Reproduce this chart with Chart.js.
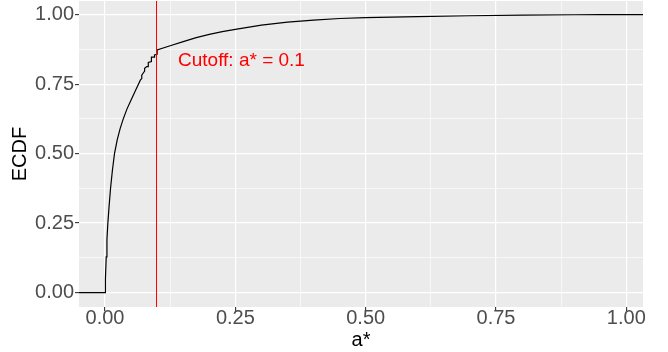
<!DOCTYPE html>
<html>
<head>
<meta charset="utf-8">
<script src="https://cdn.jsdelivr.net/npm/chart.js@4/dist/chart.umd.min.js"></script>
<style>
  html, body { margin: 0; padding: 0; background: #ffffff; }
  #wrap { width: 668px; height: 352px; }
</style>
</head>
<body>
<div id="wrap"><canvas id="c" width="668" height="352"></canvas></div>
<script>
// Empirical CDF of a* (sorted a* values and cumulative proportions)
const aValues = [
  0.0000, 0.0008, 0.0023, 0.0037, 0.0054, 0.0078, 0.0106, 0.0142, 0.0182, 0.0235,
  0.0290, 0.0350, 0.0420, 0.0500, 0.0580, 0.0650, 0.0680, 0.0705, 0.0705, 0.0730,
  0.0760, 0.0760, 0.0800, 0.0830, 0.0830, 0.0890, 0.0890, 0.0950, 0.0950, 0.1000,
  0.1000, 0.1250, 0.1500, 0.1750, 0.2000, 0.2250, 0.2500, 0.3000, 0.3500, 0.4000,
  0.4500, 0.5000, 0.6000, 0.7000, 0.8000, 0.9000, 0.9500
];
const ecdfValues = [
  0.000, 0.050, 0.128, 0.190, 0.248, 0.310, 0.375, 0.440, 0.500, 0.550,
  0.590, 0.625, 0.660, 0.693, 0.725, 0.753, 0.765, 0.770, 0.782, 0.789,
  0.797, 0.807, 0.813, 0.813, 0.828, 0.831, 0.847, 0.847, 0.855, 0.857,
  0.873, 0.888, 0.903, 0.917, 0.929, 0.939, 0.947, 0.962, 0.973, 0.980,
  0.986, 0.989, 0.993, 0.996, 0.998, 0.9995, 1.000
];
const cutoff = 0.1;
const cutoffLabel = 'Cutoff: a* = 0.1';
const xMajorTicks = [0, 0.25, 0.5, 0.75, 1];
const xMinorTicks = [0.125, 0.375, 0.625, 0.875];
const yMajorTicks = [0, 0.25, 0.5, 0.75, 1];
const yMinorTicks = [0.125, 0.375, 0.625, 0.875];

const X_MIN = -0.0499, X_MAX = 1.032;
const Y_MIN = -0.052, Y_MAX = 1.049;

// step function padded out to both panel edges
const ecdfPoints = [{ x: X_MIN, y: 0 }]
  .concat(aValues.map((a, i) => ({ x: a, y: ecdfValues[i] })))
  .concat([{ x: X_MAX, y: 1 }]);

const FONT = "'Liberation Sans', Arial, Helvetica, sans-serif";

function allTicks(major, minor) {
  return major.concat(minor).sort((p, q) => p - q).map(v => ({ value: v }));
}
const isMajor = (list, v) => list.some(m => Math.abs(m - v) < 1e-9);

const panelPlugin = {
  id: 'panel',
  beforeDraw(chart) {
    const { ctx, chartArea: a } = chart;
    ctx.save();
    ctx.fillStyle = '#EBEBEB';
    ctx.fillRect(a.left, a.top, a.right - a.left, a.bottom - a.top);
    ctx.restore();
  },
  afterDatasetsDraw(chart) {
    const { ctx, chartArea: a, scales: { x, y } } = chart;
    const px = Math.floor(x.getPixelForValue(cutoff)) - 0.5;
    ctx.save();
    ctx.strokeStyle = '#FF0000';
    ctx.lineWidth = 1;
    ctx.beginPath();
    ctx.moveTo(px, a.top);
    ctx.lineTo(px, a.bottom);
    ctx.stroke();
    ctx.fillStyle = '#FF0000';
    ctx.font = '19px ' + FONT;
    ctx.textAlign = 'left';
    ctx.textBaseline = 'middle';
    ctx.fillText(cutoffLabel, x.getPixelForValue(0.14), y.getPixelForValue(0.835));
    ctx.restore();
  }
};

new Chart(document.getElementById('c'), {
  type: 'line',
  data: {
    datasets: [{
      data: ecdfPoints,
      borderColor: '#000000',
      borderWidth: 1.2,
      pointRadius: 0,
      tension: 0,
      fill: false
    }]
  },
  options: {
    responsive: false,
    animation: false,
    devicePixelRatio: 1,
    layout: { padding: { top: 1, right: 25, left: 0, bottom: 0 } },
    plugins: { legend: { display: false }, tooltip: { enabled: false } },
    scales: {
      x: {
        type: 'linear',
        min: X_MIN,
        max: X_MAX,
        afterBuildTicks(s) { s.ticks = allTicks(xMajorTicks, xMinorTicks); },
        afterFit(s) { s.height = 45; s.paddingLeft = 0; s.paddingRight = 0; },
        border: { display: false },
        grid: {
          color: '#FFFFFF',
          lineWidth: c => isMajor(xMajorTicks, c.tick.value) ? 1.2 : 0.6,
          tickColor: c => isMajor(xMajorTicks, c.tick.value) ? '#333333' : 'rgba(0,0,0,0)',
          tickWidth: 1.1,
          tickLength: 4,
          drawTicks: true
        },
        ticks: {
          autoSkip: false,
          maxRotation: 0,
          padding: -3,
          color: '#4D4D4D',
          font: { family: FONT, size: 20, lineHeight: 1 },
          callback: v => isMajor(xMajorTicks, v) ? v.toFixed(2) : ''
        },
        title: {
          display: true,
          text: 'a*',
          color: '#000000',
          font: { family: FONT, size: 20, lineHeight: 1.2 },
          padding: { top: 0, bottom: 0 }
        }
      },
      y: {
        type: 'linear',
        min: Y_MIN,
        max: Y_MAX,
        afterBuildTicks(s) { s.ticks = allTicks(yMajorTicks, yMinorTicks); },
        afterFit(s) { s.width = 79; s.paddingTop = 0; s.paddingBottom = 0; },
        border: { display: false },
        grid: {
          color: '#FFFFFF',
          lineWidth: c => isMajor(yMajorTicks, c.tick.value) ? 1.2 : 0.6,
          tickColor: c => isMajor(yMajorTicks, c.tick.value) ? '#333333' : 'rgba(0,0,0,0)',
          tickWidth: 1.1,
          tickLength: 4,
          drawTicks: true
        },
        ticks: {
          autoSkip: false,
          padding: 1,
          color: '#4D4D4D',
          font: { family: FONT, size: 20 },
          callback: v => isMajor(yMajorTicks, v) ? v.toFixed(2) : ''
        },
        title: {
          display: true,
          text: 'ECDF',
          color: '#000000',
          font: { family: FONT, size: 20, lineHeight: 1.2 },
          padding: { top: 8, bottom: 0 }
        }
      }
    }
  },
  plugins: [panelPlugin]
});
</script>
</body>
</html>
